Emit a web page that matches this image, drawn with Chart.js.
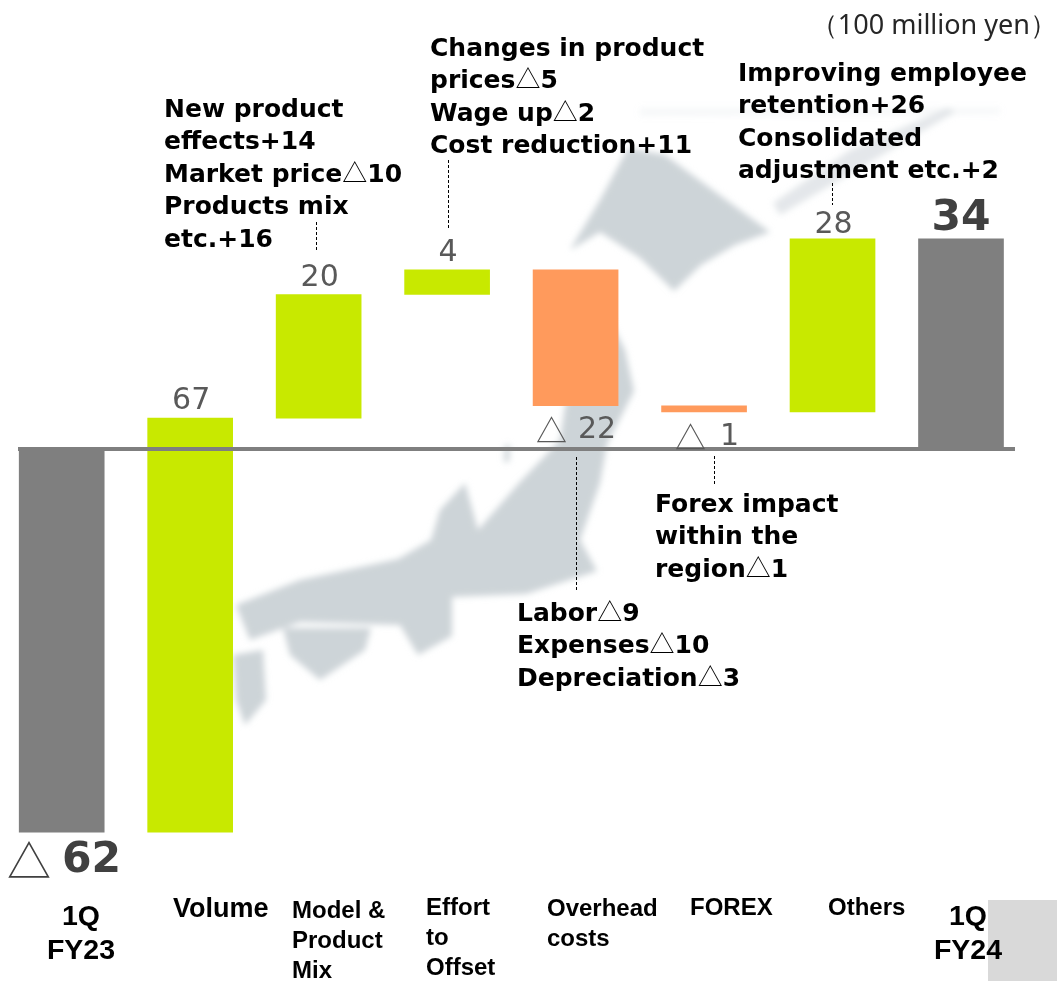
<!DOCTYPE html>
<html>
<head>
<meta charset="utf-8">
<title>Operating profit bridge</title>
<script src="https://cdn.jsdelivr.net/npm/chart.js@4"></script>
<style>
    html, body { margin: 0; padding: 0; background: #fff; overflow: hidden; }
    #stage { position: relative; width: 1057px; height: 981px; overflow: hidden; }
    #mapa { position: absolute; left: 0; top: 0; }
    #grafico { position: absolute; left: 0; top: 0; }
    .caja { position: absolute; left: 988px; top: 900px; width: 69px; height: 81px; background: #d9d9d9; }
    .nota { position: absolute; white-space: pre; font: bold 25px/32.4px "DejaVu Sans"; color: #000; }
    .tri { font: 400 25px/0 "Noto Sans CJK JP"; }
    .unidad { position: absolute; right: 0; top: 6px; white-space: pre; font: 400 27px/36px "Noto Sans"; color: #262626; }
</style>
</head>
<body>
<div id="stage">
    <div class="caja"></div>
    <svg id="mapa" width="1057" height="981">
        <defs><filter id="borroso"><feGaussianBlur stdDeviation="3"/></filter></defs>
        <g fill="#cdd4d8" filter="url(#borroso)">
            <path d="M628 148L665 155L770 232L735 245L701 265L674 291L640 258L600 232L570 250L600 200Z"/>
            <path d="M773 203L850 150L948 108L955 112L860 168L780 215Z" opacity="0.55"/>
            <path d="M640 108L1000 108L1000 114L640 116Z" opacity="0.18"/>
            <path d="M600 300L625 350L634 391L607 444L600 483L580 540L597 571L526 594L452 597L452 636L418 655L400 625L300 622L250 640L236 605L300 580L398 559L431 540L440 510L465 483L478 530L519 483L560 440L565 406L590 350Z"/>
            <path d="M283 628L371 628L365 650L320 680L290 655Z"/>
            <path d="M233 655L263 650L266 700L245 725L236 700Z"/>
            <path d="M505 445L510 445L509 462L504 462Z"/>
        </g>
    </svg>
    <canvas id="grafico" width="1057" height="981"></canvas>

    <div class="unidad">（100 million yen）</div>
    <div class="nota" style="left:164px;top:93px">New product
effects+14
Market price<span class="tri">△</span>10
Products mix
etc.+16</div>
    <div class="nota" style="left:430px;top:32px">Changes in product
prices<span class="tri">△</span>5
Wage up<span class="tri">△</span>2
Cost reduction+11</div>
    <div class="nota" style="left:738px;top:57px">Improving employee
retention+26
Consolidated
adjustment etc.+2</div>
    <div class="nota" style="left:655px;top:488px">Forex impact
within the
region<span class="tri">△</span>1</div>
    <div class="nota" style="left:517px;top:597px">Labor<span class="tri">△</span>9
Expenses<span class="tri">△</span>10
Depreciation<span class="tri">△</span>3</div>
</div>

<script>
//Datos
const categories = [['1Q', 'FY23'], ['Volume'], ['Model &', 'Product', 'Mix'], ['Effort', 'to', 'Offset'], ['Overhead', 'costs'], ['FOREX'], ['Others'], ['1Q', 'FY24']];
const barStarts = [-62, -62, 5, 25, 29, 7, 6, 0];
const barEnds = [0, 5, 25, 29, 7, 6, 34, 34];
const valueLabels = ['△ 62', '67', '20', '4', '△ 22', '△ 1', '28', '34'];

//Colores
const GRIS = '#7f7f7f';
const VERDE = '#c8e900';
const NARANJA = '#ff9a5c';
const barColors = [GRIS, VERDE, VERDE, VERDE, NARANJA, NARANJA, VERDE, GRIS];

//Etiquetas de categorias: posicion de cada una
const tickStyles = [
    {x: 81, y: 917, align: 'center', size: 28.5, gap: 34},
    {x: 173, y: 910, align: 'left', size: 27, gap: 30},
    {x: 292, y: 911, align: 'left', size: 24, gap: 30},
    {x: 426, y: 908, align: 'left', size: 24, gap: 30},
    {x: 547, y: 909, align: 'left', size: 24, gap: 30},
    {x: 690, y: 908, align: 'left', size: 24, gap: 30},
    {x: 828, y: 908, align: 'left', size: 24, gap: 30},
    {x: 968, y: 917, align: 'center', size: 28.5, gap: 34}
];

//Etiquetas de valor: altura de cada una
const valueY = [861, 401, 278, 253, 430, 437, 225, 219];
//Para las negativas: donde van el triangulo y la cifra
const triX = {0: [7, 62], 4: [536, 578], 5: [675, 720]};

//Lineas punteadas que unen notas y barras
const conectores = [[316, 222, 250], [448, 160, 228], [832, 183, 205], [576, 457, 592], [714, 456, 485]];

const dibujarExtras = {
    id: 'dibujarExtras',
    afterDatasetsDraw(chart) {
        const ctx = chart.ctx;
        const x = chart.scales.x;
        const cero = chart.scales.y.getPixelForValue(0);

        ctx.save();
        //Linea base
        ctx.fillStyle = '#7f7f7f';
        ctx.fillRect(18, cero - 2, 997, 4);

        //Conectores
        ctx.strokeStyle = '#000';
        ctx.lineWidth = 1;
        ctx.setLineDash([3, 2]);
        conectores.forEach(c => {
            ctx.beginPath();
            ctx.moveTo(c[0] + 0.5, c[1]);
            ctx.lineTo(c[0] + 0.5, c[2]);
            ctx.stroke();
        });
        ctx.setLineDash([]);

        //Etiquetas de valor
        ctx.textBaseline = 'middle';
        valueLabels.forEach((txt, i) => {
            const cy = valueY[i];
            const destacado = i === 0 || i === valueLabels.length - 1;
            const tamano = destacado ? 42.5 : 30;
            const fuente = (destacado ? 'bold ' : '400 ') + tamano + 'px "DejaVu Sans"';
            ctx.fillStyle = destacado ? '#404040' : '#595959';
            if (triX[i]) {
                ctx.textAlign = 'left';
                ctx.font = '400 ' + (destacado ? 44 : 31) + 'px "Noto Sans CJK JP"';
                ctx.fillText(txt.charAt(0), triX[i][0], cy);
                ctx.font = fuente;
                ctx.fillText(txt.slice(2), triX[i][1], cy);
            } else {
                ctx.textAlign = 'center';
                ctx.font = fuente;
                ctx.fillText(txt, x.getPixelForValue(i) + (destacado ? 0 : 1), cy);
            }
        });

        //Etiquetas de categorias
        ctx.fillStyle = '#000';
        categories.forEach((lineas, i) => {
            const t = tickStyles[i];
            ctx.textAlign = t.align;
            ctx.font = 'bold ' + t.size + 'px "Liberation Sans"';
            lineas.forEach((linea, j) => {
                ctx.fillText(linea, t.x, t.y + j * t.gap);
            });
        });
        ctx.restore();
    }
};

new Chart(document.querySelector('#grafico'), {
    type: 'bar',
    data: {
        labels: categories.map(c => c.join(' ')),
        datasets: [{
            data: barStarts.map((inicio, i) => [inicio, barEnds[i]]),
            backgroundColor: barColors,
            barThickness: 85,
            clip: false
        }]
    },
    options: {
        responsive: false,
        animation: false,
        layout: {
            padding: {left: 61.7, right: 96, top: 16.4, bottom: 99.4}
        },
        plugins: {
            legend: {display: false},
            tooltip: {enabled: false}
        },
        scales: {
            x: {display: false, offset: false},
            y: {display: false, min: -70, max: 70}
        }
    },
    plugins: [dibujarExtras]
});
</script>
</body>
</html>
